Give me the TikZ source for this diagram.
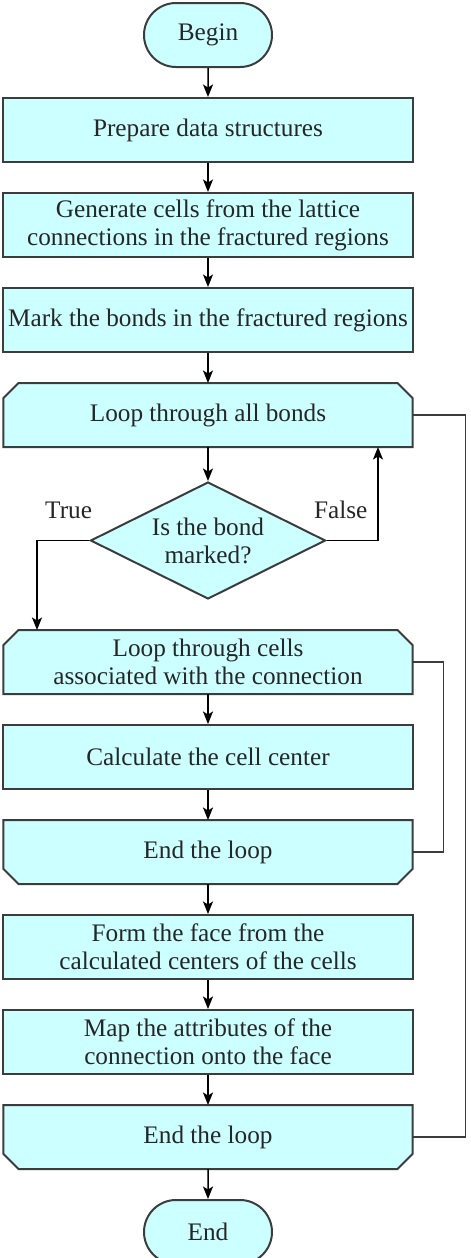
\documentclass[tikz,border=0pt]{standalone}
\usepackage{fontspec}
\setmainfont{Liberation Serif}
\usetikzlibrary{positioning,shapes.misc,shapes.geometric,arrows.meta,backgrounds}
\definecolor{boxcyan}{RGB}{204,255,255}
\definecolor{edgegray}{RGB}{60,60,60}

\begin{document}
\begin{tikzpicture}[node distance=11.6pt,
    every node/.style={font=\fontsize{10.1}{11.2}\selectfont, text=black!85},
    shape base/.style={draw=edgegray, fill=boxcyan, line width=0.8pt, inner sep=0pt, align=center},
    box/.style={shape base, minimum width=163.6pt, minimum height=25.6pt},
    loopbox/.style={box, draw=none, fill=none, minimum width=162.8pt, minimum height=24.8pt},
    term/.style={shape base, rounded rectangle, minimum width=51.2pt, minimum height=25.6pt},
    decision/.style={shape base, diamond, aspect=2, minimum width=94pt, minimum height=46.8pt},
    flow/.style={draw=black, line width=0.6pt, -{Stealth[length=5pt,width=4pt,inset=1.2pt]}},
    back/.style={draw=edgegray, line width=0.6pt},
    lbl/.style={inner sep=0pt}
]
\useasboundingbox (-83.2pt,14pt) rectangle (104.8pt,-489.2pt);

\node[term] (begin) at (0,0) {Begin};
\node[box, below=of begin] (prep) {Prepare data structures};
\node[box, below=of prep] (gen) {Generate cells from the lattice\\connections in the fractured regions};
\node[box, below=of gen] (mark) {Mark the bonds in the fractured regions};
\node[loopbox, below=12pt of mark] (bonds) {Loop through all bonds};
\node[decision, below=13.6pt of bonds] (marked) {Is the bond\\marked?};
\node[loopbox, below=12pt of marked] (cells) {Loop through cells\\associated with the connection};
\node[box, below=12pt of cells] (center) {Calculate the cell center};
\node[loopbox, below=12pt of center] (endcells) {End the loop};
\node[box, below=12pt of endcells] (face) {Form the face from the\\calculated centers of the cells};
\node[box, below=of face] (attr) {Map the attributes of the\\connection onto the face};
\node[loopbox, below=12pt of attr] (endbonds) {End the loop};
\node[term, below=12pt of endbonds] (end) {End};

\node[lbl, anchor=base east] (truelbl) at ([xshift=1.2pt,yshift=8.8pt]marked.west) {True};
\node[lbl, anchor=base west] (falselbl) at ([xshift=-5.2pt,yshift=8.8pt]marked.east) {False};

% loop heads cut at the top, loop ends cut at the bottom
\begin{scope}[on background layer]
\foreach \n in {bonds, cells}
    \draw[shape base] ([xshift=6pt]\n.north west) -- ([xshift=-6pt]\n.north east)
        -- ([yshift=-6pt]\n.north east) -- (\n.south east) -- (\n.south west)
        -- ([yshift=-6pt]\n.north west) -- cycle;
\foreach \n in {endcells, endbonds}
    \draw[shape base] (\n.north west) -- (\n.north east) -- ([yshift=6pt]\n.south east)
        -- ([xshift=-6pt]\n.south east) -- ([xshift=6pt]\n.south west)
        -- ([yshift=6pt]\n.south west) -- cycle;
\end{scope}

\foreach \a/\b in {begin/prep, prep/gen, gen/mark, mark/bonds, bonds/marked,
    cells/center, center/endcells, endcells/face, face/attr, attr/endbonds, endbonds/end}
    \draw[flow] (\a) -- (\b);

\draw[flow] (marked.west) -| ([xshift=-68.4pt]cells.north);
\draw[flow] (marked.east) -| ([xshift=68pt]bonds.south);

\draw[back] (bonds.east) -- ++(21.2pt,0) |- (endbonds.east);
\draw[back] (cells.east) -- ++(12.4pt,0) |- (endcells.east);
\end{tikzpicture}
\end{document}
